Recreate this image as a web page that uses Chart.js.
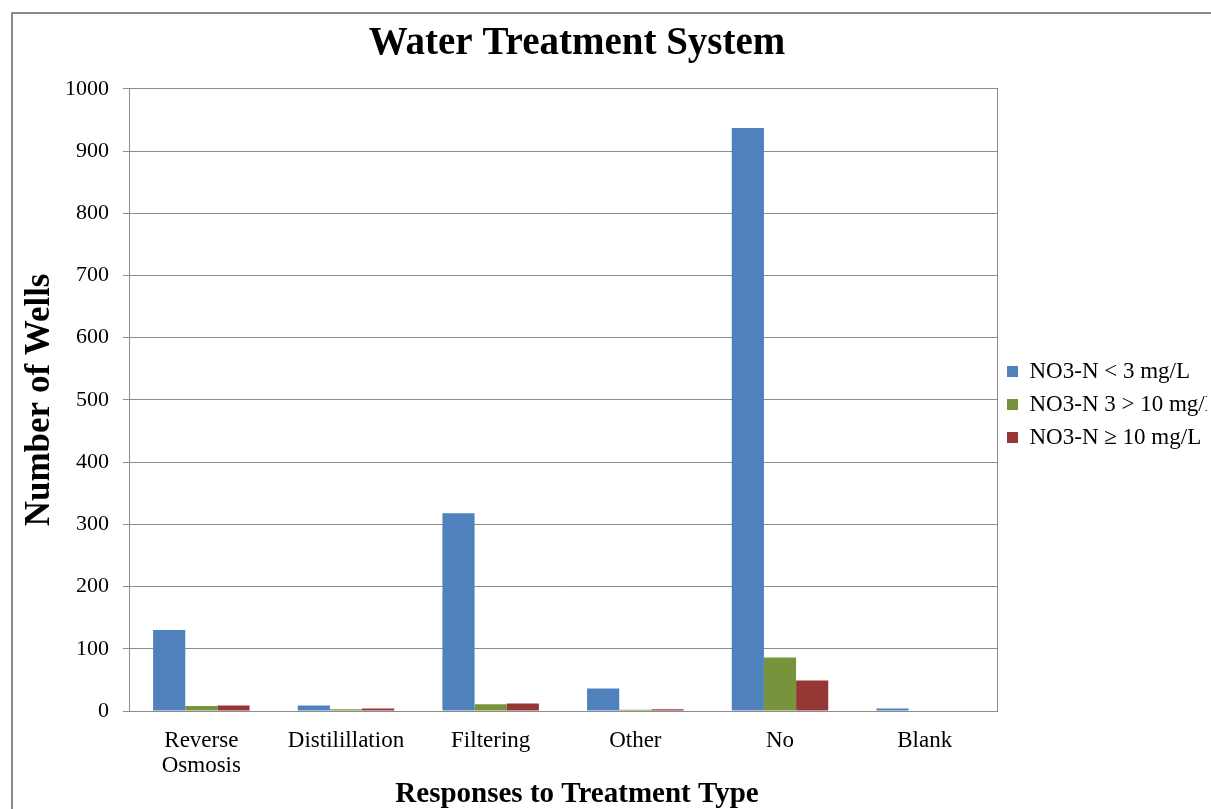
<!DOCTYPE html>
<html>
<head>
<meta charset="utf-8">
<script src="https://cdn.jsdelivr.net/npm/chart.js@4.4.1/dist/chart.umd.min.js"></script>
<style>
  html, body { margin: 0; padding: 0; width: 1211px; height: 809px; overflow: hidden; background: #fff; }
  #frame { position: absolute; left: 11px; top: 12px; width: 1300px; height: 900px; border-left: 2px solid #8a8a8a; border-top: 2px solid #8a8a8a; pointer-events: none; }
  #wrap { position: absolute; left: -53px; top: 0; width: 1280px; height: 809px; }
</style>
</head>
<body>
<div id="frame"></div>
<div id="wrap"><canvas id="c" width="1280" height="809"></canvas></div>
<script>
const categories = [["Reverse", "Osmosis"], "Distilillation", "Filtering", "Other", "No", "Blank"];
const seriesNames = ["NO3-N < 3 mg/L", "NO3-N 3 > 10 mg/L", "NO3-N \u2265 10 mg/L"];
const lowValues = [130, 9, 318, 36, 937, 4];
const midValues = [8, 3, 11, 2, 86, 0];
const highValues = [9, 4, 12, 3, 49, 0];
const yTicks = [0, 100, 200, 300, 400, 500, 600, 700, 800, 900, 1000];
const colors = ["#4F81BD", "#77933C", "#953735"];

const serif = "'Liberation Serif', 'Times New Roman', serif";
const gridColor = "#8c8c8c";

const chart = new Chart(document.getElementById("c"), {
  type: "bar",
  data: {
    labels: categories,
    datasets: [lowValues, midValues, highValues].map((vals, i) => ({
      label: seriesNames[i],
      data: vals,
      backgroundColor: colors[i],
      borderWidth: 0,
      categoryPercentage: 0.667,
      barPercentage: 1.0
    }))
  },
  options: {
    responsive: false,
    animation: false,
    layout: { padding: { left: 0, right: 20, top: 0, bottom: 0 } },
    scales: {
      x: {
        afterFit: (s) => { s.height = 67; },
        grid: { display: false, drawTicks: false },
        border: { display: true, color: gridColor, width: 1 },
        ticks: { color: "#000", font: { family: serif, size: 23, lineHeight: 1.087 }, padding: 17, maxRotation: 0, autoSkip: false }
      },
      y: {
        min: 0, max: 1000,
        afterBuildTicks: (s) => { s.ticks = yTicks.map(v => ({ value: v })); },
        afterFit: (s) => { s.width = 182; },
        grid: { color: gridColor, lineWidth: 1, tickLength: 6, drawTicks: true },
        border: { display: true, color: gridColor, width: 1 },
        ticks: { color: "#000", font: { family: serif, size: 22 }, padding: 14, callback: (v) => String(v) },
        title: { display: true, text: "Number of Wells", color: "#000", font: { family: serif, size: 35, weight: "bold", lineHeight: 1.2 }, padding: { top: 71.5, bottom: 0 } }
      },
      y2: {
        position: "right",
        min: 0, max: 1000,
        grid: { drawOnChartArea: false, drawTicks: false },
        border: { display: true, color: gridColor, width: 1 },
        ticks: { display: false }
      }
    },
    plugins: {
      title: {
        display: true,
        text: "Water Treatment System",
        color: "#000",
        font: { family: serif, size: 39, weight: "bold", lineHeight: 1.2 },
        padding: { top: 21, bottom: 21 }
      },
      subtitle: {
        display: true,
        position: "bottom",
        text: "Responses to Treatment Type",
        color: "#000",
        font: { family: serif, size: 29, weight: "bold", lineHeight: 1.0 },
        padding: { top: 2, bottom: 0 }
      },
      legend: {
        position: "right",
        align: "center",
        labels: { color: "#000", font: { family: serif, size: 23 }, boxWidth: 11, boxHeight: 11, padding: 10 }
      },
      tooltip: { enabled: false }
    }
  }
});
</script>
</body>
</html>
